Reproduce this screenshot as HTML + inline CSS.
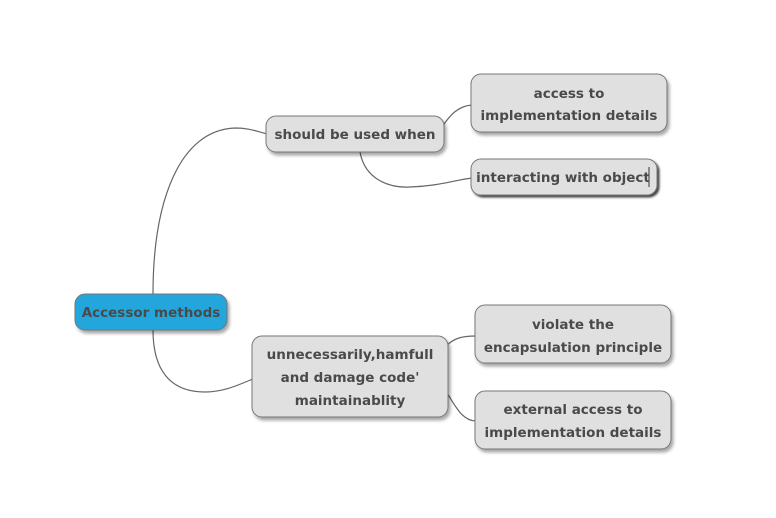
<!DOCTYPE html>
<html><head><style>
body{margin:0;background:#fff;}
svg text{font-family:"DejaVu Sans","Liberation Sans",sans-serif;font-weight:bold;font-size:13.5px;fill:#4a4a4a;text-anchor:middle;}
</style></head><body>
<svg width="776" height="513" xmlns="http://www.w3.org/2000/svg">
<defs><filter id="s" x="-10%" y="-10%" width="130%" height="140%"><feDropShadow dx="2" dy="3" stdDeviation="1.5" flood-color="#000" flood-opacity="0.35"/></filter>
<filter id="d" x="-10%" y="-10%" width="130%" height="140%"><feDropShadow dx="2" dy="2" stdDeviation="1" flood-color="#000" flood-opacity="0.75"/></filter></defs>
<g fill="none" stroke="#666" stroke-width="1.2">
<path d="M153,294 C153,200 180,130 235,128 C250,128 258,132 268,134"/>
<path d="M153,330 C153,370 170,392 205,392 C225,392 240,384 253,379"/>
<path d="M442,127 C450,115 458,106 472,105"/>
<path d="M360,152 C365,180 390,188 410,187 C440,186 455,180 472,178"/>
<path d="M447,345 C455,338 462,336 476,336"/>
<path d="M447,393 C455,405 462,421 476,421"/>
</g>
<g filter="url(#s)" stroke="#777" stroke-width="1">
<rect x="75" y="294" width="152" height="36" rx="10" fill="#23a6dc"/>
<rect x="266" y="116" width="178" height="36" rx="10" fill="#e0e0e0"/>
<rect x="471" y="74" width="196" height="58" rx="10" fill="#e0e0e0"/>
<rect x="252" y="336" width="196" height="81" rx="10" fill="#e0e0e0"/>
<rect x="475" y="305" width="196" height="58" rx="10" fill="#e0e0e0"/>
<rect x="475" y="391" width="196" height="58" rx="10" fill="#e0e0e0"/>
</g>
<rect x="471" y="159" width="186" height="36" rx="10" fill="#e0e0e0" stroke="#777" filter="url(#d)"/>
<line x1="649" y1="167" x2="649" y2="187" stroke="#333"/>
<text x="151" y="317">Accessor methods</text>
<text x="355" y="139">should be used when</text>
<text x="569" y="98">access to</text>
<text x="569" y="120">implementation details</text>
<text x="563" y="182">interacting with object</text>
<text x="350" y="359">unnecessarily,hamfull</text>
<text x="350" y="382">and damage code'</text>
<text x="350" y="405">maintainablity</text>
<text x="573" y="329">violate the</text>
<text x="573" y="352">encapsulation principle</text>
<text x="573" y="414">external access to</text>
<text x="573" y="437">implementation details</text>
</svg>
</body></html>
